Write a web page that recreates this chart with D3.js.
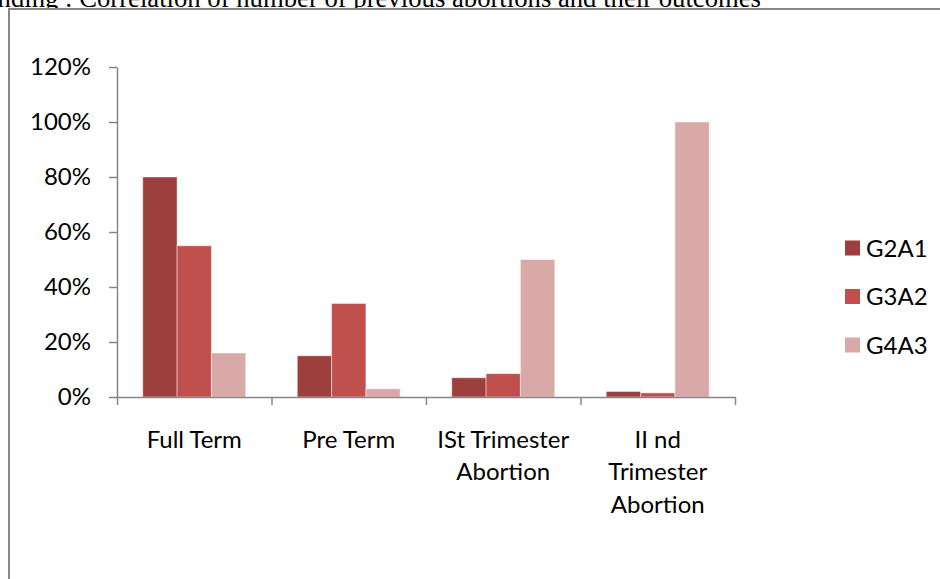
<!DOCTYPE html>
<html>
<head>
<meta charset="utf-8">
<script src="https://cdn.jsdelivr.net/npm/d3@7"></script>
<style>
  html, body { margin: 0; padding: 0; background: #fff; overflow: hidden; }
  svg { display: block; }
</style>
</head>
<body>
<svg id="chart" width="940" height="579"></svg>
<script>
// Outcome categories (line breaks as wrapped on the axis)
const categories = ["Full Term", "Pre Term", "ISt Trimester\nAbortion", "II nd\nTrimester\nAbortion"];
const seriesNames = ["G2A1", "G3A2", "G4A3"];
const g2a1 = [0.80, 0.15, 0.07, 0.02];
const g3a2 = [0.55, 0.34, 0.085, 0.015];
const g4a3 = [0.16, 0.03, 0.50, 1.00];
const yTicks = [0, 0.2, 0.4, 0.6, 0.8, 1.0, 1.2];
const titleText = "Finding : Correlation of number of previous abortions and their outcomes";

const seriesValues = [g2a1, g3a2, g4a3];
const colors = ["#9c3f3d", "#c0504d", "#d9a9a8"];

const svg = d3.select("#chart");
const labelFont = "Lato, 'Open Sans', sans-serif";

// Caption running above the chart frame
svg.append("text")
  .attr("x", 761).attr("y", 6.5)
  .attr("text-anchor", "end")
  .attr("font-family", "'Liberation Serif', 'Times New Roman', serif")
  .attr("font-size", 26.7)
  .attr("fill", "#000")
  .text(titleText);

// Chart frame (white fill covers the caption's lower part)
svg.append("rect")
  .attr("x", 9).attr("y", 9)
  .attr("width", 960).attr("height", 600)
  .attr("fill", "#fff")
  .attr("stroke", "#878787")
  .attr("stroke-width", 2);

const plot = { left: 117, right: 735, top: 67, bottom: 397 };

const y = d3.scaleLinear().domain([0, 1.2]).range([plot.bottom, plot.top]);
const x = d3.scaleBand().domain(categories)
  .range([plot.left, plot.right])
  .paddingInner(1 / 3).paddingOuter(1 / 6);
const xs = d3.scaleBand().domain(seriesNames).range([0, x.bandwidth()]);
const xEdge = d3.scaleLinear().domain([0, categories.length]).range([plot.left, plot.right]);

// Bars
const groups = svg.append("g").selectAll("g")
  .data(seriesNames)
  .join("g")
  .attr("fill", (d, i) => colors[i]);

groups.selectAll("rect")
  .data((s, i) => categories.map((c, j) => ({ c, s, v: seriesValues[i][j] })))
  .join("rect")
  .attr("x", d => x(d.c) + xs(d.s))
  .attr("y", d => y(d.v))
  .attr("width", xs.bandwidth())
  .attr("height", d => plot.bottom - y(d.v))
  .attr("stroke", "rgba(255,255,255,0.45)")
  .attr("stroke-width", 1);

// Y axis
const yAxis = svg.append("g")
  .attr("transform", `translate(${plot.left},0)`)
  .call(d3.axisLeft(y).tickValues(yTicks).tickSize(8).tickSizeOuter(0).tickPadding(18)
    .tickFormat(d3.format(".0%")));
yAxis.selectAll("path, line").attr("stroke", "#868686").attr("stroke-width", 1.5);
yAxis.selectAll("text")
  .attr("font-family", labelFont).attr("font-size", 24).attr("fill", "#000");

// X axis with ticks on category boundaries
const xAxis = svg.append("g")
  .attr("transform", `translate(0,${plot.bottom})`)
  .call(d3.axisBottom(xEdge).tickValues(d3.range(categories.length + 1))
    .tickSize(8).tickSizeOuter(0).tickFormat(""));
xAxis.selectAll("path, line").attr("stroke", "#868686").attr("stroke-width", 1.5);

// Category labels
const catLabels = svg.append("g").selectAll("text")
  .data(categories)
  .join("text")
  .attr("x", d => x(d) + x.bandwidth() / 2)
  .attr("y", 448)
  .attr("text-anchor", "middle")
  .attr("font-family", labelFont).attr("font-size", 24).attr("fill", "#000");
catLabels.selectAll("tspan")
  .data(d => d.split("\n"))
  .join("tspan")
  .attr("x", function () { return this.parentNode.getAttribute("x"); })
  .attr("dy", (d, i) => i === 0 ? 0 : 32.4)
  .text(d => d);

// Legend
const legend = svg.append("g").selectAll("g")
  .data(seriesNames)
  .join("g")
  .attr("transform", (d, i) => `translate(845,${248 + i * 48.5})`);
legend.append("rect")
  .attr("x", 0).attr("y", -7.5).attr("width", 15).attr("height", 15)
  .attr("fill", (d, i) => colors[i]);
legend.append("text")
  .attr("x", 21).attr("y", 8.5)
  .attr("font-family", labelFont).attr("font-size", 24).attr("fill", "#000")
  .text(d => d);
</script>
</body>
</html>
